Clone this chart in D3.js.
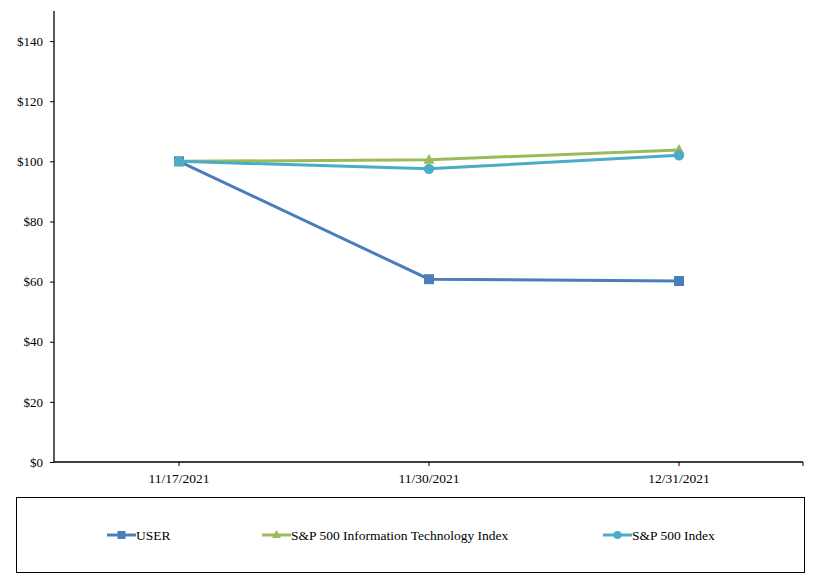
<!DOCTYPE html>
<html><head><meta charset="utf-8">
<script src="https://cdn.jsdelivr.net/npm/d3@7"></script>
<style>body{margin:0;background:#fff}svg{display:block}text{font-family:"Liberation Serif","Times New Roman",serif;font-size:13px;fill:#000}</style>
</head><body>
<script>
const categories = ["11/17/2021","11/30/2021","12/31/2021"];
const userValues = [100, 60.8, 60.2];
const itValues = [100, 100.5, 103.8];
const spValues = [100, 97.5, 102.0];
const yTicks = [0,20,40,60,80,100,120,140];
const seriesNames = ["USER","S&P 500 Information Technology Index","S&P 500 Index"];
const colors = ["#4a7ebb","#9bbb59","#4bacc6"];
const shapes = ["square","triangle","circle"];

const W=814,H=582;
const svg=d3.select("body").append("svg").attr("width",W).attr("height",H);
const x0=54,x1=803,yTop=11,yBot=462;
const x=d3.scaleBand().domain(categories).range([x0,x1+1]);
const y=d3.scaleLinear().domain([0,150]).range([yBot,yTop]);
const cx=c=>x(c)+x.bandwidth()/2;

// axes
const gy=svg.append("g").attr("transform",`translate(${x0},0)`)
  .call(d3.axisLeft(y).tickValues(yTicks).tickSize(4).tickPadding(7).tickFormat(d=>"$"+d));
gy.select(".domain").attr("d",`M0,${yTop}V${yBot}`).attr("stroke","#000").attr("stroke-width",1.3);
gy.selectAll("text").style("font-family","Liberation Serif").style("font-size","13px");
const gx=svg.append("g").attr("transform",`translate(0,${yBot})`)
  .call(d3.axisBottom(x).tickSize(4).tickPadding(7));
gx.select(".domain").attr("d",`M${x0},0H${x1}`).attr("stroke","#000").attr("stroke-width",1.3);
gx.selectAll("text").style("font-family","Liberation Serif").style("font-size","13.5px");
gx.append("line").attr("x1",x1).attr("x2",x1).attr("y1",0).attr("y2",4).attr("stroke","#000");

const data=[userValues,itValues,spValues];
const line=d3.line().x((d,i)=>cx(categories[i])).y(d=>y(d));
function marker(g,shape,color,px,py){
  if(shape==="square") g.append("rect").attr("x",px-5).attr("y",py-5).attr("width",10).attr("height",10).attr("fill",color);
  else if(shape==="circle") g.append("circle").attr("cx",px).attr("cy",py).attr("r",5.2).attr("fill",color);
  else g.append("path").attr("d",`M${px},${py-6}L${px+5.5},${py+4}L${px-5.5},${py+4}Z`).attr("fill",color);
}
data.forEach((vals,s)=>{
  const g=svg.append("g");
  g.append("path").datum(vals).attr("d",line).attr("fill","none").attr("stroke",colors[s]).attr("stroke-width",3);
  vals.forEach((v,i)=>marker(g,shapes[s],colors[s],cx(categories[i]),y(v)));
});

// legend
svg.append("rect").attr("x",16.5).attr("y",497.5).attr("width",788).attr("height",75).attr("fill","none").attr("stroke","#000").attr("stroke-width",1);
const legX=[107,262,603];
const ly=535;
seriesNames.forEach((n,s)=>{
  const g=svg.append("g");
  g.append("line").attr("x1",legX[s]).attr("x2",legX[s]+29).attr("y1",ly).attr("y2",ly).attr("stroke",colors[s]).attr("stroke-width",3);
  const m=g.append("g"), mx=legX[s]+14.5;
  if(shapes[s]==="square") m.append("rect").attr("x",mx-4).attr("y",ly-4).attr("width",8).attr("height",8).attr("fill",colors[s]);
  else if(shapes[s]==="circle") m.append("circle").attr("cx",mx).attr("cy",ly).attr("r",4).attr("fill",colors[s]);
  else m.append("path").attr("d",`M${mx},${ly-5}L${mx+4.5},${ly+3}L${mx-4.5},${ly+3}Z`).attr("fill",colors[s]);
  g.append("text").attr("x",legX[s]+29).attr("y",ly+4.5).style("font-size","13.5px").text(n);
});
</script>
</body></html>
